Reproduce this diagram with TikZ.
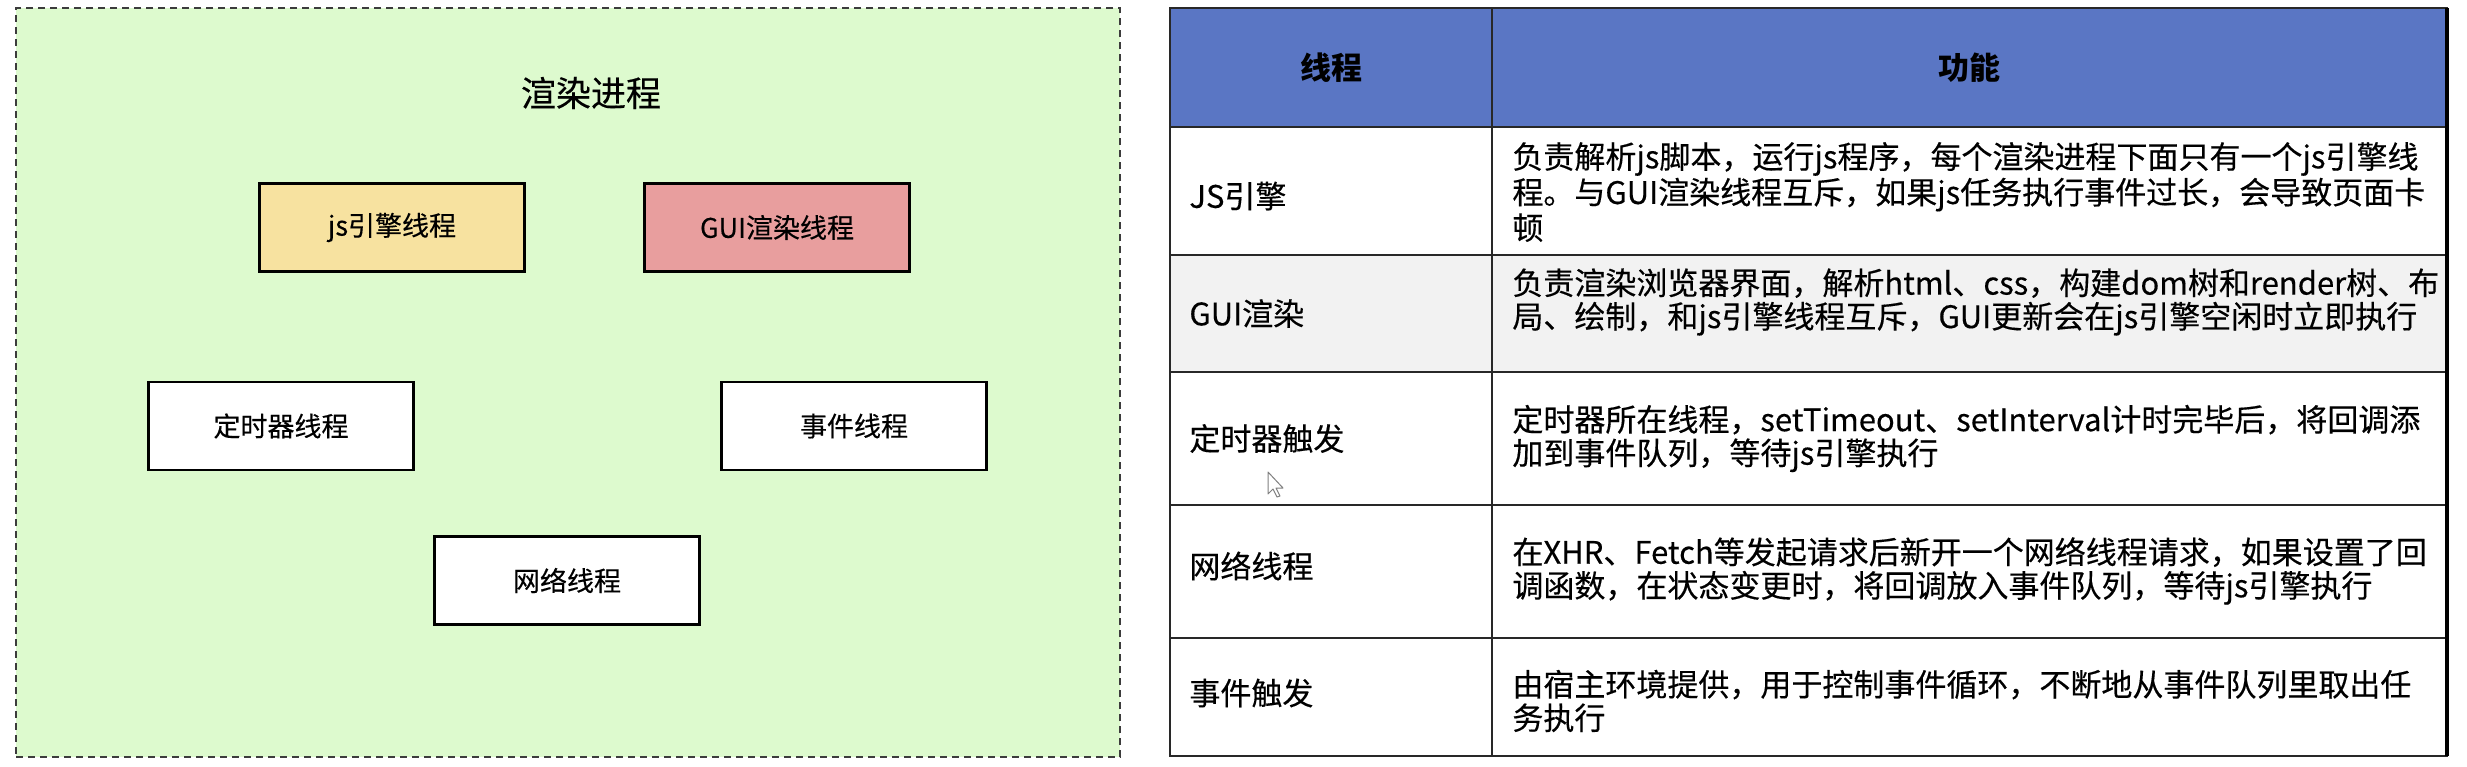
\documentclass[tikz,border=0pt]{standalone}
\usepackage{fontspec}
\setmainfont{Noto Sans CJK SC}[UprightFeatures={FakeBold=0.35}]
\definecolor{panelgreen}{RGB}{221,250,206}
\definecolor{jsyellow}{RGB}{247,226,160}
\definecolor{guired}{RGB}{232,158,158}
\definecolor{headblue}{RGB}{90,118,196}
\definecolor{rowgray}{RGB}{242,242,242}
\definecolor{linegray}{RGB}{40,40,40}
\definecolor{dashgray}{RGB}{60,60,60}
\begin{document}
\begin{tikzpicture}[x=0.5pt,y=-0.5pt,
  panelbox/.style={draw=dashgray, line width=1pt, dash pattern=on 3.5pt off 2.5pt, fill=panelgreen, inner sep=0pt, minimum width=552pt, minimum height=374.5pt},
  box/.style={draw=black, line width=1.3pt, minimum width=132.5pt, minimum height=44pt, inner sep=0pt, font=\fontsize{13.5}{16}\selectfont},
  titletext/.style={inner sep=0pt, font=\fontsize{17.5}{20}\selectfont},
  cell/.style={draw=linegray, line width=1.2pt, inner sep=0pt, outer sep=0pt},
  celltext/.style={anchor=west, align=left, inner sep=0pt, font=\fontsize{15.5}{16.75}\selectfont},
  labeltext/.style={anchor=west, inner sep=0pt, font=\fontsize{15.5}{18}\selectfont},
  headtext/.style={inner sep=0pt, font=\fontsize{15.5}{18}\selectfont\bfseries}]
\useasboundingbox (0,0) rectangle (2467,766);
\fill[white] (0,0) rectangle (2467,766);
% left panel
\node[panelbox] (panel) at (568,382.5) {};
\node[titletext] (title) at (591,93) {渲染进程};
\node[box, fill=jsyellow] (js) at (392,227.5) {js引擎线程};
\node[box, fill=guired] (gui) at (777,227.5) {GUI渲染线程};
\node[box, fill=white] (timer) at (281,426) {定时器线程};
\node[box, fill=white] (event) at (854,426) {事件线程};
\node[box, fill=white] (net) at (567,580.5) {网络线程};
% table cells
\node[cell, fill=headblue, minimum width=161pt, minimum height=59.5pt] (h1) at (1331,67.5) {};
\node[cell, fill=headblue, minimum width=477.5pt, minimum height=59.5pt] (h2) at (1969.5,67.5) {};
\node[cell, fill=white, minimum width=161pt, minimum height=64pt] (r1a) at (1331,191) {};
\node[cell, fill=white, minimum width=477.5pt, minimum height=64pt] (r1b) at (1969.5,191) {};
\node[cell, fill=rowgray, minimum width=161pt, minimum height=58.5pt] (r2a) at (1331,313.5) {};
\node[cell, fill=rowgray, minimum width=477.5pt, minimum height=58.5pt] (r2b) at (1969.5,313.5) {};
\node[cell, fill=white, minimum width=161pt, minimum height=66.5pt] (r3a) at (1331,438.5) {};
\node[cell, fill=white, minimum width=477.5pt, minimum height=66.5pt] (r3b) at (1969.5,438.5) {};
\node[cell, fill=white, minimum width=161pt, minimum height=66.5pt] (r4a) at (1331,571.5) {};
\node[cell, fill=white, minimum width=477.5pt, minimum height=66.5pt] (r4b) at (1969.5,571.5) {};
\node[cell, fill=white, minimum width=161pt, minimum height=59pt] (r5a) at (1331,697) {};
\node[cell, fill=white, minimum width=477.5pt, minimum height=59pt] (r5b) at (1969.5,697) {};
\draw[line width=2.2pt, black] (h2.north east) -- (r5b.south east);
% header text
\node[headtext] (t-h1) at (h1) {线程};
\node[headtext] (t-h2) at (h2) {功能};
% labels
\node[labeltext] (l1) at (1189,196) {JS引擎};
\node[labeltext] (l2) at (1189,313.5) {GUI渲染};
\node[labeltext] (l3) at (1189,438.5) {定时器触发};
\node[labeltext] (l4) at (1189,566) {网络线程};
\node[labeltext] (l5) at (1189,693) {事件触发};
% descriptions
\node[celltext] (d1) at (1512,192) {负责解析js脚本，运行js程序，每个渲染进程下面只有一个js引擎线\\程。与GUI渲染线程互斥，如果js任务执行事件过长，会导致页面卡\\顿};
\node[celltext] (d2) at (1512,302) {负责渲染浏览器界面，解析html、css，构建dom树和render树、布\\局、绘制，和js引擎线程互斥，GUI更新会在js引擎空闲时立即执行};
\node[celltext] (d3) at (1512,438.5) {定时器所在线程，setTimeout、setInterval计时完毕后，将回调添\\加到事件队列，等待js引擎执行};
\node[celltext] (d4) at (1512,571) {在XHR、Fetch等发起请求后新开一个网络线程请求，如果设置了回\\调函数，在状态变更时，将回调放入事件队列，等待js引擎执行};
\node[celltext] (d5) at (1512,701) {由宿主环境提供，用于控制事件循环，不断地从事件队列里取出任\\务执行};
% mouse cursor
\draw[gray, fill=white, line width=0.5pt, line join=round] (1268,472) -- (1268,494) -- (1273,489) -- (1277,497) -- (1280,496) -- (1276,488) -- (1283,488) -- cycle;
\end{tikzpicture}
\end{document}
